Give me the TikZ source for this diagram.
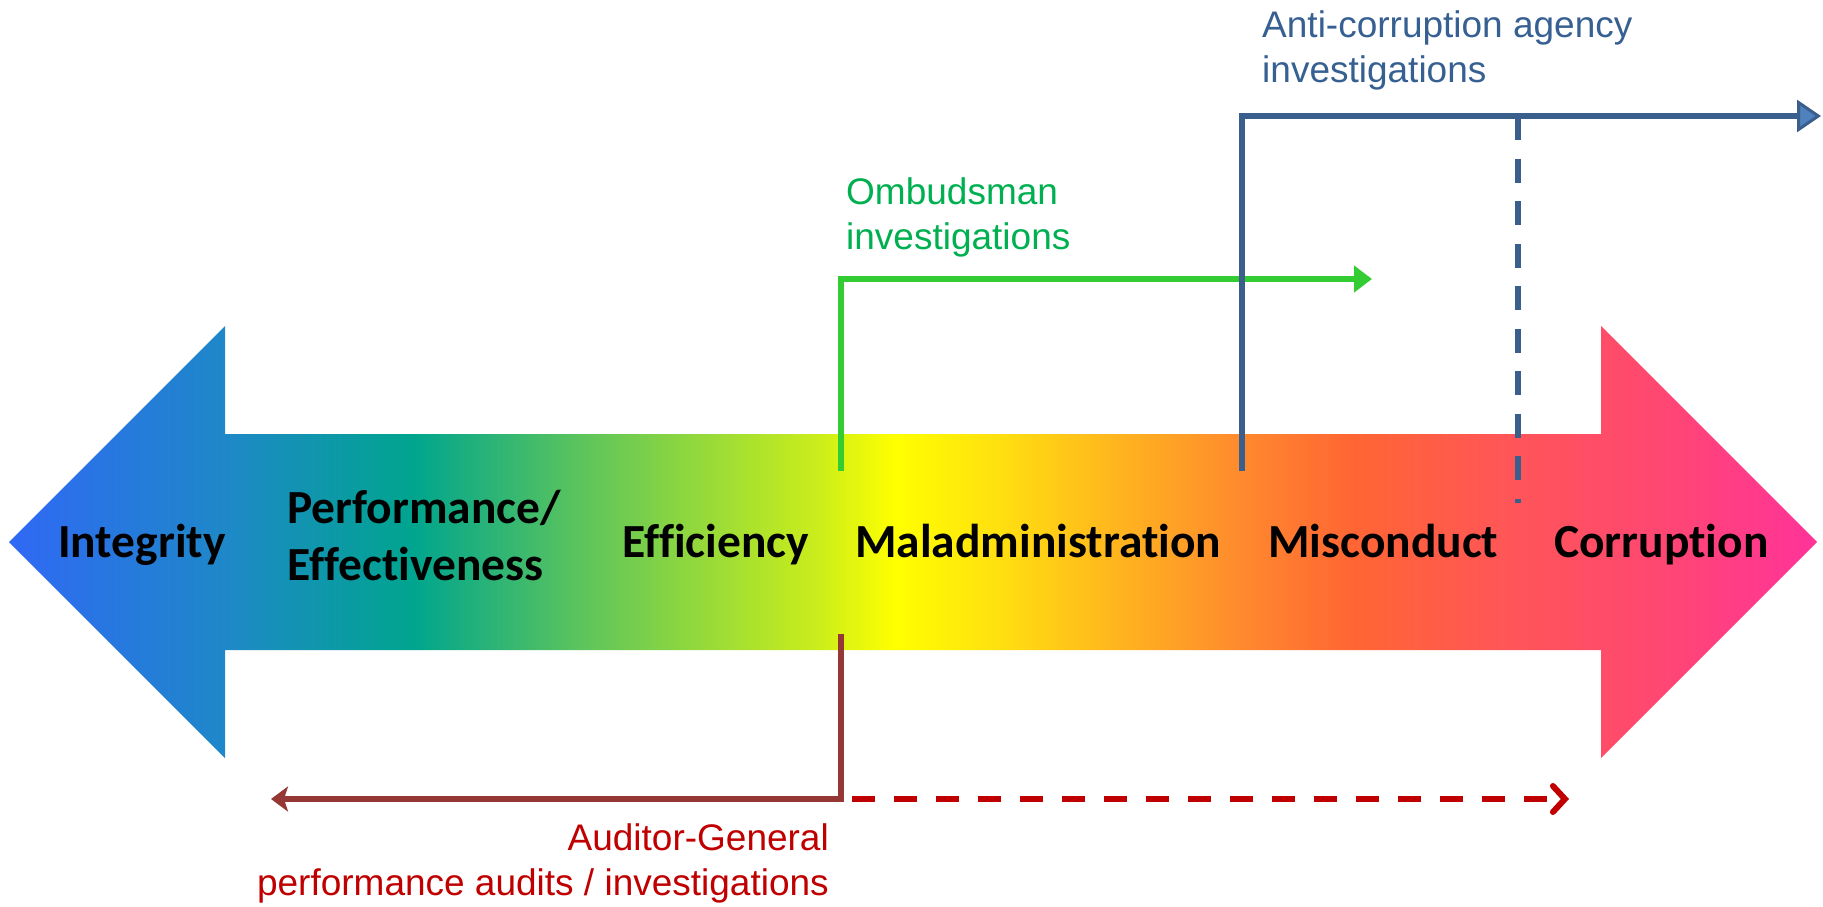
\documentclass[tikz,border=0pt]{standalone}
\usepackage{fontspec}
\setmainfont{Carlito}[Ligatures=NoCommon]
\newfontfamily\arialish{Liberation Sans}
\usetikzlibrary{arrows.meta}

\definecolor{specA}{HTML}{3068F5}
\definecolor{specB}{HTML}{1E88C8}
\definecolor{specC}{HTML}{00A58E}
\definecolor{specD}{HTML}{5CC45C}
\definecolor{specE}{HTML}{CCEE1A}
\definecolor{specF}{HTML}{FFFF00}
\definecolor{specG}{HTML}{FFDF10}
\definecolor{specH}{HTML}{FFB020}
\definecolor{specI}{HTML}{FF8A2E}
\definecolor{specJ}{HTML}{FF6633}
\definecolor{specK}{HTML}{FF5656}
\definecolor{specL}{HTML}{FF4870}
\definecolor{specM}{HTML}{FF3399}

\definecolor{ombline}{HTML}{33CC33}
\definecolor{ombtext}{HTML}{00B050}
\definecolor{acaline}{HTML}{3A5F8C}
\definecolor{acahead}{HTML}{4F81BD}
\definecolor{acatext}{HTML}{376092}
\definecolor{agline}{HTML}{953735}
\definecolor{agtext}{HTML}{C00000}

\pgfdeclarehorizontalshading{spectrum}{100bp}{color(0bp)=(specA); color(25bp)=(specA);
  color(30.97bp)=(specB); color(36.2bp)=(specC); color(40.79bp)=(specD);
  color(47.43bp)=(specE); color(49.50bp)=(specF); color(52.41bp)=(specG);
  color(56.0bp)=(specH); color(59.04bp)=(specI); color(62.08bp)=(specJ);
  color(66.23bp)=(specK); color(70.38bp)=(specL); color(75bp)=(specM);
  color(100bp)=(specM)}

\tikzset{
  band/.style={font=\bfseries\fontsize{47.5}{57}\selectfont, anchor=base west,
    inner sep=0pt, align=left},
  remit/.style={font=\arialish\fontsize{37}{45}\selectfont, inner sep=0pt},
  bracket/.style={line width=6pt},
}

\begin{document}
\begin{tikzpicture}[x=1pt,y=-1pt]
  \useasboundingbox (0,0) rectangle (1823,906);

  \path[shading=spectrum] (9,542) -- (225,326) -- (225,434) -- (1601,434)
    -- (1601,326) -- (1817,542) -- (1601,758) -- (1601,650) -- (225,650)
    -- (225,758) -- cycle;

  \begin{scope}[every node/.style=band]
    \node (integrity)   at (58,557)   {Integrity};
    \node (performance) at (287,580)  {Performance/\\Effectiveness};
    \node (efficiency)  at (622,557)  {Efficiency};
    \node (maladmin)    at (855,557)  {Maladministration};
    \node (misconduct)  at (1268,557) {Misconduct};
    \node (corruption)  at (1554,557) {Corruption};
  \end{scope}

  \node[remit, text=ombtext, anchor=base west, align=left] (ombudsman)
    at (846,249) {Ombudsman\\investigations};
  \node[remit, text=acatext, anchor=base west, align=left] (agency)
    at (1262,82) {Anti-corruption agency\\investigations};
  \node[remit, text=agtext, anchor=base east, align=right] (auditor)
    at (829,895) {Auditor-General\\performance audits / investigations};

  \coordinate (omb foot) at (841,471);
  \coordinate (omb tip)  at (1372,279);
  \coordinate (aca foot) at (1242,471);
  \coordinate (aca tip)  at (1821,116);
  \coordinate (aca drop) at (1518,116);
  \coordinate (aca end)  at (1518,503);
  \coordinate (ag top)   at (841,634);
  \coordinate (ag tip)   at (271,799);
  \coordinate (ag from)  at (852,799);
  \coordinate (ag far)   at (1569,799);

  \draw[bracket, ombline, -{Triangle[length=18pt,width=26pt]}]
    (omb foot) |- (omb tip);
  \draw[bracket, acaline, line width=6.5pt,
    -{Triangle[length=24pt,width=32pt,fill=acahead,line width=3pt]}]
    (aca foot) |- (aca tip);
  \draw[bracket, acaline, dash pattern=on 24pt off 18.5pt] (aca drop) -- (aca end);
  \draw[bracket, agline, -{Stealth[length=17pt,width=25pt,inset=4pt]}]
    (ag top) |- (ag tip);
  \draw[bracket, agtext, dash pattern=on 23pt off 19pt,
    -{Straight Barb[length=12pt,width=26pt,line cap=round]}] (ag from) -- (ag far);

\end{tikzpicture}
\end{document}
